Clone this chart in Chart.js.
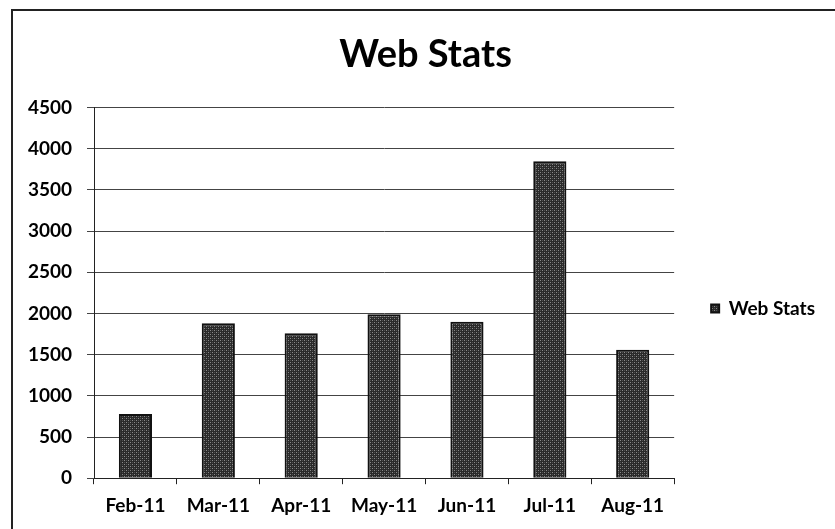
<!DOCTYPE html>
<html>
<head>
<meta charset="utf-8">
<title>Web Stats</title>
<script src="https://cdn.jsdelivr.net/npm/chart.js@4"></script>
<style>
  html, body { margin: 0; padding: 0; background: #fff; }
  #wrap { position: relative; width: 835px; height: 529px; }
</style>
</head>
<body>
<div id="wrap"><canvas id="chart" width="835" height="529"></canvas></div>
<script>
  // 데이터
  const months = ['Feb-11', 'Mar-11', 'Apr-11', 'May-11', 'Jun-11', 'Jul-11', 'Aug-11'];
  const visits = [780, 1880, 1760, 1990, 1900, 3850, 1560];
  const seriesName = 'Web Stats';
  const yTicks = [0, 500, 1000, 1500, 2000, 2500, 3000, 3500, 4000, 4500];

  const FONT = 'Lato, "Open Sans", sans-serif';

  // 점묘 느낌의 막대 패턴
  function makePattern() {
    const c = document.createElement('canvas');
    c.width = 4; c.height = 4;
    const g = c.getContext('2d');
    g.fillStyle = '#2a2a2a';
    g.fillRect(0, 0, 4, 4);
    g.fillStyle = '#8a8a8a';
    g.fillRect(0, 0, 1, 1);
    g.fillRect(2, 2, 1, 1);
    g.fillStyle = '#505050';
    g.fillRect(2, 0, 1, 1);
    g.fillRect(0, 2, 1, 1);
    return g.createPattern(c, 'repeat');
  }

  // 차트 외곽 테두리 (위, 왼쪽)
  const frame = {
    id: 'frame',
    afterDraw(chart) {
      const ctx = chart.ctx;
      ctx.save();
      ctx.strokeStyle = '#222';
      ctx.lineWidth = 2;
      ctx.beginPath();
      ctx.moveTo(835, 10);
      ctx.lineTo(12, 10);
      ctx.lineTo(12, 529);
      ctx.stroke();
      ctx.restore();
    }
  };

  const ctx = document.getElementById('chart').getContext('2d');
  new Chart(ctx, {
    type: 'bar',
    data: {
      labels: months,
      datasets: [{
        label: seriesName,
        data: visits,
        backgroundColor: makePattern(),
        borderColor: '#111',
        borderWidth: 2,
        categoryPercentage: 1,
        barPercentage: 0.4
      }]
    },
    options: {
      responsive: false,
      animation: false,
      layout: { padding: { left: 26, right: 10, top: 0, bottom: 2 } },
      plugins: {
        title: {
          display: true,
          text: seriesName,
          color: '#000',
          font: { family: FONT, size: 38, weight: 'bold' },
          padding: { top: 32, bottom: 30 }
        },
        legend: {
          position: 'right',
          fullSize: false,
          maxWidth: 160,
          // 범례를 세로로 살짝 내리기 위한 빈 제목
          title: { display: true, text: '', font: { size: 16 }, padding: { top: 0, bottom: 12 } },
          labels: {
            color: '#000',
            font: { family: FONT, size: 19, weight: 'bold' },
            boxWidth: 8,
            boxHeight: 8,
            padding: 37
          }
        },
        tooltip: { enabled: false }
      },
      scales: {
        x: {
          grid: {
            drawOnChartArea: false,
            drawTicks: true,
            tickLength: 6,
            color: '#222'
          },
          border: { color: '#222', width: 1 },
          ticks: {
            color: '#000',
            font: { family: FONT, size: 19, weight: 'bold' },
            padding: 10,
            maxRotation: 0
          }
        },
        y: {
          min: 0,
          max: 4500,
          afterBuildTicks: s => { s.ticks = yTicks.map(v => ({ value: v })); },
          afterFit: s => { s.width = 68; },
          grid: {
            color: '#444',
            lineWidth: 1,
            tickLength: 7
          },
          border: { color: '#222', width: 1 },
          ticks: {
            color: '#000',
            font: { family: FONT, size: 19, weight: 'bold' },
            padding: 15,
            callback: v => String(v)
          }
        }
      }
    },
    plugins: [frame]
  });
</script>
</body>
</html>
